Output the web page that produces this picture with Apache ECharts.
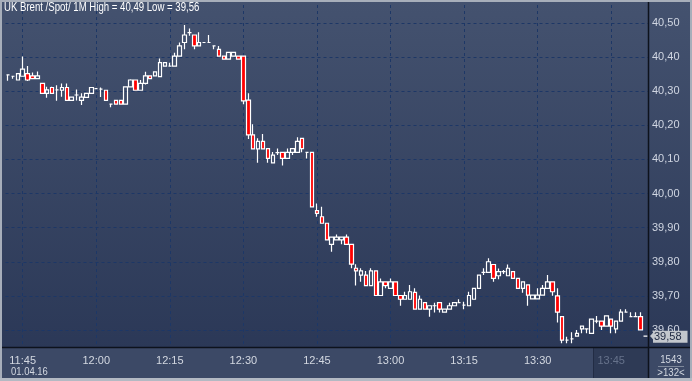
<!DOCTYPE html>
<html><head><meta charset="utf-8">
<script src="https://cdn.jsdelivr.net/npm/echarts@6/dist/echarts.min.js"></script>
<style>html,body{margin:0;padding:0;background:#2c3a58;}#c{width:692px;height:381px;}</style>
</head><body><div id="c"></div>
<script>
const times = ['11:42','11:43','11:44','11:45','11:46','11:47','11:48','11:49','11:50','11:51','11:52','11:53','11:54','11:55','11:56','11:57','11:58','11:59',
'12:00','12:01','12:02','12:03','12:04','12:05','12:06','12:07','12:08','12:09','12:10','12:11','12:12','12:13','12:14','12:15','12:16','12:17','12:18','12:19','12:20','12:21','12:22','12:23','12:24','12:25','12:26','12:27','12:28','12:29',
'12:30','12:31','12:32','12:33','12:34','12:35','12:36','12:37','12:38','12:39','12:40','12:41','12:42','12:43','12:44','12:45','12:46','12:47','12:48','12:49','12:50','12:51','12:52','12:53','12:54','12:55','12:56','12:57','12:58','12:59',
'13:00','13:01','13:02','13:03','13:04','13:05','13:06','13:07','13:08','13:09','13:10','13:11','13:12','13:13','13:14','13:15','13:16','13:17','13:18','13:19','13:20','13:21','13:22','13:23','13:24','13:25','13:26','13:27','13:28','13:29',
'13:30','13:31','13:32','13:33','13:34','13:35','13:36','13:37','13:38','13:39','13:40','13:41','13:42','13:43','13:44','13:45','13:46','13:47','13:48','13:49','13:50','13:51','13:52'];
const open = [40.348,40.344,40.333,40.344,40.352,40.345,40.337,40.323,40.294,40.311,40.304,40.303,40.311,40.273,40.289,40.273,40.282,40.294,40.308,40.306,
40.303,40.262,40.273,40.273,40.262,40.313,40.333,40.303,40.323,40.345,40.345,40.343,40.374,40.374,40.374,40.403,40.443,40.472,40.465,40.433,
40.443,40.443,40.433,40.423,40.403,40.394,40.403,40.403,40.403,40.274,40.172,40.131,40.153,40.132,40.090,40.120,40.121,40.103,40.121,40.121,
40.162,40.121,40.121,39.950,39.932,39.913,39.851,39.864,39.864,39.872,39.851,39.781,39.761,39.761,39.730,39.773,39.701,39.741,39.722,39.741,
39.701,39.690,39.690,39.710,39.661,39.680,39.661,39.671,39.680,39.652,39.661,39.671,39.680,39.673,39.671,39.690,39.722,39.769,39.769,39.792,
39.759,39.771,39.759,39.771,39.751,39.722,39.732,39.691,39.691,39.702,39.722,39.741,39.700,39.639,39.570,39.574,39.582,39.603,39.603,39.590,
39.626,39.626,39.611,39.632,39.603,39.626,39.652,39.639,39.639,39.639,39.582];
const close = [40.348,40.344,40.352,40.365,40.333,40.337,40.345,40.294,40.304,40.294,40.304,40.311,40.273,40.283,40.289,40.283,40.294,40.311,40.308,40.306,
40.273,40.262,40.262,40.262,40.313,40.333,40.303,40.323,40.345,40.337,40.357,40.384,40.384,40.374,40.403,40.433,40.465,40.472,40.433,40.443,
40.443,40.443,40.433,40.403,40.394,40.414,40.414,40.394,40.272,40.172,40.131,40.153,40.131,40.103,40.113,40.120,40.103,40.121,40.132,40.153,
40.132,40.121,39.961,39.942,39.913,39.864,39.872,39.872,39.872,39.851,39.793,39.773,39.773,39.730,39.773,39.701,39.741,39.730,39.741,39.701,
39.690,39.701,39.712,39.661,39.690,39.661,39.671,39.671,39.661,39.661,39.671,39.680,39.680,39.673,39.701,39.722,39.761,39.769,39.800,39.751,
39.771,39.771,39.781,39.751,39.722,39.741,39.702,39.702,39.702,39.722,39.741,39.712,39.652,39.570,39.570,39.574,39.590,39.611,39.603,39.632,
39.626,39.611,39.641,39.611,39.626,39.652,39.652,39.639,39.639,39.600,39.582];
const low = [40.331,40.337,40.333,40.344,40.330,40.337,40.337,40.294,40.281,40.294,40.272,40.284,40.273,40.273,40.273,40.260,40.282,40.294,40.308,40.283,
40.273,40.253,40.262,40.262,40.262,40.313,40.303,40.303,40.320,40.337,40.345,40.343,40.374,40.374,40.374,40.403,40.423,40.463,40.423,40.433,
40.443,40.443,40.423,40.403,40.394,40.394,40.403,40.394,40.262,40.160,40.131,40.090,40.131,40.090,40.090,40.113,40.082,40.103,40.113,40.121,
40.121,40.103,39.961,39.932,39.913,39.864,39.829,39.864,39.851,39.851,39.781,39.730,39.741,39.730,39.730,39.701,39.701,39.722,39.722,39.701,
39.671,39.690,39.690,39.661,39.661,39.661,39.639,39.651,39.651,39.652,39.661,39.671,39.680,39.661,39.671,39.690,39.722,39.761,39.769,39.741,
39.749,39.764,39.759,39.751,39.722,39.709,39.671,39.691,39.691,39.702,39.722,39.700,39.622,39.561,39.561,39.561,39.582,39.590,39.590,39.590,
39.620,39.600,39.611,39.590,39.590,39.626,39.652,39.639,39.639,39.600,39.582];
const high = [40.348,40.344,40.352,40.402,40.374,40.355,40.358,40.323,40.313,40.313,40.318,40.323,40.323,40.283,40.305,40.294,40.294,40.311,40.308,40.311,
40.303,40.262,40.273,40.273,40.313,40.335,40.333,40.333,40.357,40.345,40.357,40.396,40.384,40.384,40.413,40.443,40.494,40.484,40.465,40.473,
40.443,40.465,40.433,40.433,40.403,40.414,40.414,40.403,40.403,40.294,40.203,40.162,40.175,40.132,40.122,40.132,40.121,40.132,40.132,40.165,
40.162,40.121,40.121,39.971,39.961,39.913,39.872,39.880,39.872,39.880,39.851,39.793,39.781,39.773,39.781,39.773,39.751,39.741,39.751,39.741,
39.701,39.712,39.732,39.722,39.701,39.680,39.671,39.680,39.680,39.661,39.680,39.680,39.690,39.683,39.712,39.722,39.761,39.781,39.810,39.792,
39.780,39.776,39.792,39.771,39.751,39.741,39.732,39.702,39.722,39.732,39.761,39.741,39.722,39.639,39.580,39.593,39.600,39.611,39.603,39.632,
39.641,39.626,39.641,39.632,39.626,39.661,39.661,39.652,39.652,39.652,39.582];
const yTicks = [39.6,39.7,39.8,39.9,40.0,40.1,40.2,40.3,40.4,40.5];
const titleText = 'UK Brent /Spot/ 1M High = 40,49 Low = 39,56';
const lastPrice = 39.582;
const lastLabel = '39,58';
const dateLabel = '01.04.16';
const counterTop = '1543';
const counterBottom = '>132<';
const dimLabel = '13:45';

const candles = times.map((t, i) => [i, open[i], close[i], low[i], high[i]]);
const xTicks = times.map((t, i) => i).filter(i => Number(times[i].slice(3)) % 15 === 0);

const chart = echarts.init(document.getElementById('c'), null, {renderer: 'canvas'});
const FONT = '"Liberation Sans", Arial, sans-serif';
const gridLine = {show: true, lineStyle: {color: '#1d3766', width: 1, type: [3, 3]}};
chart.setOption({
  animation: false,
  backgroundColor: {type: 'linear', x: 0, y: 0, x2: 0, y2: 1,
    colorStops: [{offset: 0, color: '#44526f'}, {offset: 1, color: '#293655'}]},
  grid: {left: 5.5, right: 44, top: 5, bottom: 34},
  xAxis: {
    type: 'value', min: -0.5, max: times.length - 0.5,
    axisLine: {show: false},
    axisTick: {show: false, customValues: xTicks},
    axisLabel: {customValues: xTicks, margin: 8, color: '#d3d8e1', fontSize: 11, fontFamily: FONT,
      formatter: v => times[Math.round(v)] === dimLabel ? '{d|' + dimLabel + '}' : times[Math.round(v)],
      rich: {d: {color: '#66728b', fontSize: 11, fontFamily: FONT}}},
    splitLine: gridLine
  },
  yAxis: {
    type: 'value', position: 'right', min: 39.55, max: 40.553, scale: true,
    axisLine: {show: false},
    axisTick: {show: false, customValues: yTicks},
    axisLabel: {customValues: yTicks, margin: 4, color: '#d0d6e2', fontSize: 11, fontFamily: FONT,
      formatter: v => v.toFixed(2).replace('.', ',')},
    splitLine: gridLine
  },
  series: [{
    type: 'candlestick',
    data: candles,
    barWidth: 4,
    itemStyle: {color: 'rgba(0,0,0,0)', color0: '#ff0000', borderColor: '#ffffff', borderColor0: '#ffffff',
      borderColorDoji: '#ffffff', borderWidth: 1.2},
    markLine: {
      silent: true, symbol: ['none', 'none'],
      lineStyle: {color: 'rgba(0,0,0,0)', width: 0},
      label: {show: true, position: 'end', distance: 5, formatter: lastLabel, backgroundColor: '#c3c7cd', color: '#1d2740',
        fontSize: 11, fontFamily: FONT, padding: [1, 6, 0, 1], opacity: 1},
      emphasis: {disabled: true},
      data: [{yAxis: lastPrice}]
    },
    markPoint: {
      silent: true, symbol: 'triangle', symbolRotate: 90, symbolSize: [13, 6], symbolOffset: [5, 0],
      itemStyle: {color: '#c3c7cd'}, label: {show: false},
      data: [{coord: [times.length - 0.5, lastPrice]}]
    }
  }],
  graphic: [
    {type: 'rect', z: -10, shape: {x: 0, y: 348, width: 692, height: 33}, style: {fill: '#3c4966'}},
    {type: 'rect', z: -9, shape: {x: 593, y: 348, width: 55, height: 30}, style: {fill: '#2e3a55'}},
    {type: 'line', z: -8, shape: {x1: 593.5, y1: 348, x2: 593.5, y2: 378}, style: {stroke: '#222c44', lineWidth: 1}},
    {type: 'line', z: 5, shape: {x1: 648.5, y1: 0, x2: 648.5, y2: 381}, style: {stroke: '#0d121c', lineWidth: 1.5}},
    {type: 'line', z: 5, shape: {x1: 0, y1: 347.5, x2: 692, y2: 347.5}, style: {stroke: '#0d121c', lineWidth: 1.5}},
    {type: 'rect', z: 6, shape: {x: 1, y: 1, width: 690, height: 378}, style: {fill: 'none', stroke: '#a7aeba', lineWidth: 2}},
    {type: 'rect', z: 6, shape: {x: 0, y: 378, width: 692, height: 3}, style: {fill: '#b3b9c3'}},
    {type: 'text', z: 7, x: 4, y: 2, scaleX: 0.8, style: {text: titleText, fill: '#ffffff', font: '12px ' + FONT}},
    {type: 'text', z: 7, x: 11, y: 366, scaleX: 0.86, style: {text: dateLabel, fill: '#d3d8e1', font: '11px ' + FONT}},
    {type: 'text', z: 7, x: 671, y: 354, scaleX: 0.88, style: {text: counterTop, fill: '#d3d8e1', font: '11px ' + FONT, textAlign: 'center'}},
    {type: 'line', z: 7, shape: {x1: 658, y1: 366.5, x2: 684, y2: 366.5}, style: {stroke: '#7e889a', lineWidth: 1}},
    {type: 'text', z: 7, x: 671, y: 367, scaleX: 0.88, style: {text: counterBottom, fill: '#d3d8e1', font: '11px ' + FONT, textAlign: 'center'}}
  ]
});
</script></body></html>
